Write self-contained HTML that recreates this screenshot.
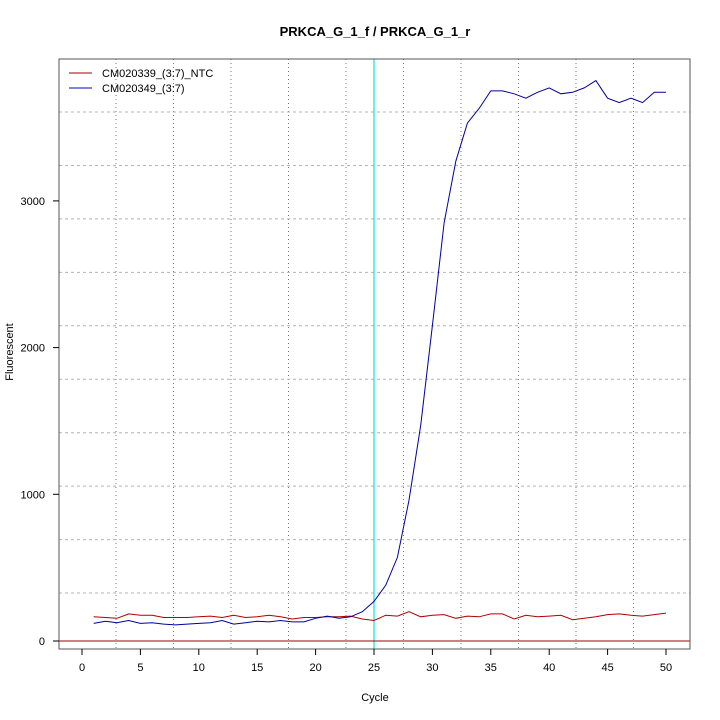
<!DOCTYPE html>
<html><head><meta charset="utf-8"><style>
html,body{margin:0;padding:0;background:#fff;}
svg{display:block;font-family:"Liberation Sans",sans-serif;}
</style></head><body>
<svg id="s" width="720" height="720" viewBox="0 0 720 720" xmlns="http://www.w3.org/2000/svg">
<rect width="720" height="720" fill="#fff"/>
<text x="375" y="36" text-anchor="middle" font-size="13" font-weight="bold">PRKCA_G_1_f / PRKCA_G_1_r</text>
<g id="grid" stroke="#b4b4b4" stroke-width="1" fill="none"></g>
<line x1="374" y1="59" x2="374" y2="649" stroke="#00e5e5" stroke-width="1.2"/>
<line x1="59" y1="641" x2="690" y2="641" stroke="#a00000" stroke-width="1"/>
<polyline id="red" fill="none" stroke="#b00000" stroke-width="1"/>
<polyline id="blue" fill="none" stroke="#0000a0" stroke-width="1"/>
<rect x="59" y="59" width="631" height="590" fill="none" stroke="#555" stroke-width="1"/>
<g id="axes" stroke="#000" fill="none"></g>
<g id="labels" font-size="11" fill="#000"></g>
<line x1="69" y1="73" x2="92" y2="73" stroke="#a00000"/>
<line x1="69" y1="88" x2="92" y2="88" stroke="#0000c0"/>
<text x="102" y="77" font-size="11">CM020339_(3:7)_NTC</text>
<text x="102" y="92" font-size="11">CM020349_(3:7)</text>
<text x="375" y="701" text-anchor="middle" font-size="11">Cycle</text>
<text x="0" y="0" transform="translate(13,352) rotate(-90)" text-anchor="middle" font-size="11">Fluorescent</text>
</svg>
<script>
const ns="http://www.w3.org/2000/svg";
function el(p,t,a){const e=document.createElementNS(ns,t);for(const k in a)e.setAttribute(k,a[k]);p.appendChild(e);return e;}
const X=c=>82+c*11.68, Y=v=>641-v*0.1467;
const g=document.getElementById('grid');
for(let i=0;i<10;i++){const x=116+i*57.5;el(g,'line',{x1:x,y1:59,x2:x,y2:649,'stroke-dasharray':'1,3','stroke':'#777'});}
for(let i=0;i<10;i++){const y=112+i*53.45;el(g,'line',{x1:59,y1:y,x2:690,y2:y,'stroke-dasharray':'3,3'});}
const blue=[120,135,125,140,120,125,115,110,115,120,125,140,115,125,135,130,140,130,130,155,170,155,165,200,270,380,570,960,1470,2150,2850,3270,3530,3630,3750,3750,3730,3700,3740,3770,3730,3740,3770,3820,3700,3670,3700,3670,3740,3740];
const red=[165,160,155,185,175,175,160,160,160,165,170,160,175,160,165,175,165,150,160,160,165,165,170,150,140,175,170,200,165,175,180,155,170,165,185,185,150,175,165,170,175,145,155,165,180,185,175,170,180,190];
document.getElementById('blue').setAttribute('points',blue.map((v,i)=>X(i+1).toFixed(1)+','+Y(v).toFixed(1)).join(' '));
document.getElementById('red').setAttribute('points',red.map((v,i)=>X(i+1).toFixed(1)+','+Y(v).toFixed(1)).join(' '));
const a=document.getElementById('axes'),l=document.getElementById('labels');
for(let c=0;c<=50;c+=5){el(a,'line',{x1:X(c),y1:649,x2:X(c),y2:655});const t=el(l,'text',{x:X(c),y:671,'text-anchor':'middle'});t.textContent=c;}
for(let v=0;v<=3000;v+=1000){el(a,'line',{x1:53,y1:Y(v),x2:59,y2:Y(v)});const t=el(l,'text',{x:45,y:Y(v)+4,'text-anchor':'end'});t.textContent=v;}
</script>
</body></html>
